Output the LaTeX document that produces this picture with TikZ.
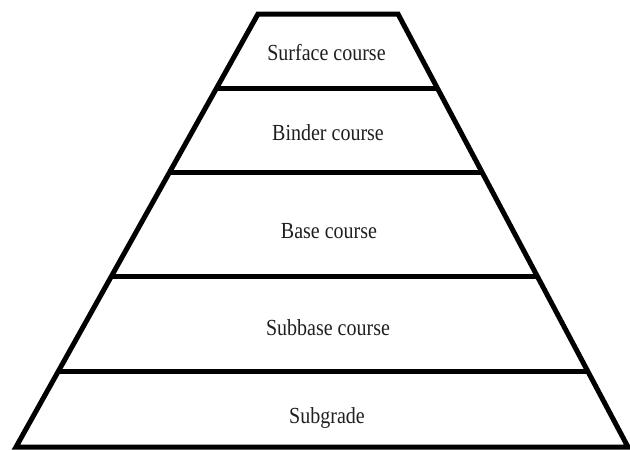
\documentclass[tikz,border=0pt]{standalone}
\usepackage{fontspec}
\usepackage{graphicx}
\setmainfont{Liberation Serif}
\usetikzlibrary{calc}
\newcommand{\tallt}[1]{\scalebox{1}[1.15]{#1}}
\begin{document}
\begin{tikzpicture}[x=1pt,y=-1pt,
  edge/.style={line width=5pt, line join=miter},
  layerlabel/.style={anchor=base, inner sep=0pt, text=black!88, font=\fontsize{20}{24}\selectfont}]
\useasboundingbox (0,0) rectangle (630,450);
\fill[white] (0,0) rectangle (630,450);
\coordinate (TL) at (258,14);
\coordinate (TR) at (398,14);
\coordinate (BL) at (16,447);
\coordinate (BR) at (628,447);
\draw[edge] (TL) -- (TR) -- (BR) -- (BL) -- cycle;
\foreach \t/\n in {0.1709/a,0.3649/b,0.6051/c,0.8245/d}{
  \coordinate (L\n) at ($(TL)!\t!(BL)$);
  \coordinate (R\n) at ($(TR)!\t!(BR)$);
  \draw[edge] (L\n) -- (R\n);
}
\node[layerlabel] (surface) at (326.5,60) {\tallt{Surface course}};
\node[layerlabel] (binder) at (328,140) {\tallt{Binder course}};
\node[layerlabel] (base) at (329,238) {\tallt{Base course}};
\node[layerlabel] (subbase) at (328,335) {\tallt{Subbase course}};
\node[layerlabel] (subgrade) at (327,423) {\tallt{Subgrade}};
\end{tikzpicture}
\end{document}
